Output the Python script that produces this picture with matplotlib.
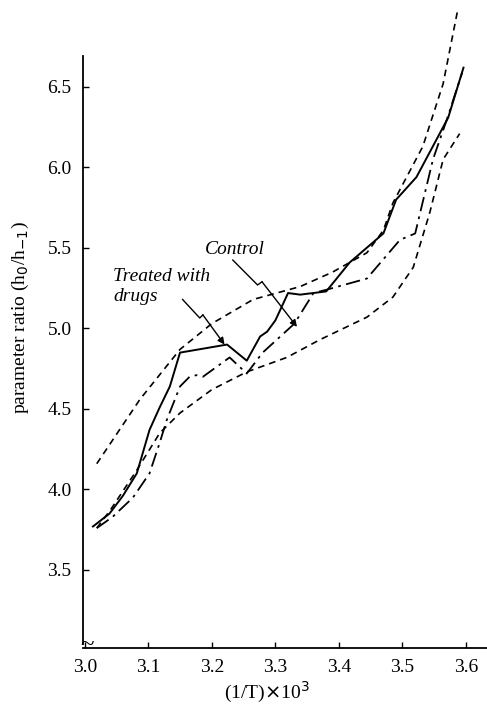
import matplotlib.pyplot as plt

# data
treated_x = [3.013, 3.039, 3.06, 3.082, 3.102, 3.118, 3.134, 3.15, 3.224, 3.255, 3.276,
             3.287, 3.30, 3.32, 3.339, 3.38, 3.417, 3.47, 3.49, 3.522, 3.572, 3.596]
treated_y = [3.77, 3.85, 3.96, 4.10, 4.37, 4.51, 4.64, 4.85, 4.90, 4.80, 4.95,
             4.98, 5.05, 5.22, 5.21, 5.23, 5.41, 5.59, 5.80, 5.94, 6.31, 6.62]

control_x = [3.019, 3.044, 3.076, 3.102, 3.118, 3.129, 3.15, 3.165, 3.176, 3.186, 3.228,
             3.255, 3.28, 3.33, 3.36, 3.38, 3.444, 3.496, 3.52, 3.548, 3.57, 3.594]
control_y = [3.76, 3.83, 3.95, 4.10, 4.29, 4.43, 4.64, 4.70, 4.71, 4.70, 4.82,
             4.72, 4.85, 5.03, 5.22, 5.24, 5.31, 5.55, 5.59, 6.05, 6.30, 6.59]

upper_x = [3.019, 3.087, 3.15, 3.20, 3.265, 3.339, 3.39, 3.444, 3.47, 3.485, 3.532, 3.564, 3.587]
upper_y = [4.16, 4.56, 4.87, 5.03, 5.18, 5.26, 5.35, 5.47, 5.61, 5.78, 6.13, 6.52, 6.98]

lower_x = [3.019, 3.04, 3.082, 3.118, 3.15, 3.20, 3.255, 3.318, 3.37, 3.444, 3.485,
           3.517, 3.543, 3.564, 3.59]
lower_y = [3.76, 3.87, 4.12, 4.35, 4.475, 4.62, 4.73, 4.82, 4.93, 5.07, 5.195,
           5.38, 5.72, 6.05, 6.21]

x_ticks = [3.0, 3.1, 3.2, 3.3, 3.4, 3.5, 3.6]
y_ticks = [3.5, 4.0, 4.5, 5.0, 5.5, 6.0, 6.5]

# leader lines of the two labels (with the little kink)
control_leader_x = [3.233, 3.272, 3.279]
control_leader_y = [5.425, 5.27, 5.29]
control_tip = (3.334, 5.01)
treated_leader_x = [3.154, 3.181, 3.186]
treated_leader_y = [5.18, 5.065, 5.084]
treated_tip = (3.22, 4.90)

plt.rcParams['font.family'] = ['Liberation Serif', 'DejaVu Serif']

fig = plt.figure(figsize=(4.87, 7.05), dpi=100)
ax = fig.add_axes([0.170, 0.081, 0.830, 0.919])

ax.plot(treated_x, treated_y, color='black', lw=1.4, ls='-')
ax.plot(control_x, control_y, color='black', lw=1.3, ls=(0, (8, 3, 1.5, 3)))
ax.plot(upper_x, upper_y, color='black', lw=1.2, ls=(0, (4, 3)))
ax.plot(lower_x, lower_y, color='black', lw=1.2, ls=(0, (4, 3)))

ax.set_xlim(2.997, 3.633)
ax.set_ylim(3.016, 7.04)

for s in ['top', 'right']:
    ax.spines[s].set_visible(False)
ax.spines['left'].set_bounds(3.04, 6.69)
ax.spines['left'].set_linewidth(1.3)
ax.spines['bottom'].set_linewidth(1.3)

ax.set_xticks(x_ticks)
ax.set_yticks(y_ticks)
ax.set_xticklabels(['%.1f' % v for v in x_ticks])
ax.set_yticklabels(['%.1f' % v for v in y_ticks])
ax.tick_params(direction='in', length=4, width=1, labelsize=14, pad=8)

# axis break mark
ax.text(3.003, 3.035, '~', fontsize=18, ha='center', va='center')

ax.set_xlabel(r'(1/T)$\times$10$^3$', fontsize=14, va='center')
ax.xaxis.set_label_coords(0.455, -0.069)
ax.set_ylabel(r'parameter ratio (h$_0$/h$_{-1}$)', fontsize=14, va='center')
ax.yaxis.set_label_coords(-0.155, 0.51)

ax.text(3.236, 5.49, 'Control', fontsize=14, style='italic', ha='center', va='center')
ax.text(3.045, 5.26, 'Treated with\ndrugs', fontsize=14, style='italic',
        ha='left', va='center', linespacing=1.25)

ax.plot(control_leader_x, control_leader_y, color='black', lw=1)
ax.annotate('', xy=control_tip, xytext=(control_leader_x[-1], control_leader_y[-1]),
            arrowprops=dict(arrowstyle='-|>', color='black', lw=1, shrinkA=0, shrinkB=0))
ax.plot(treated_leader_x, treated_leader_y, color='black', lw=1)
ax.annotate('', xy=treated_tip, xytext=(treated_leader_x[-1], treated_leader_y[-1]),
            arrowprops=dict(arrowstyle='-|>', color='black', lw=1, shrinkA=0, shrinkB=0))

fig.savefig('out.png', dpi=100)
